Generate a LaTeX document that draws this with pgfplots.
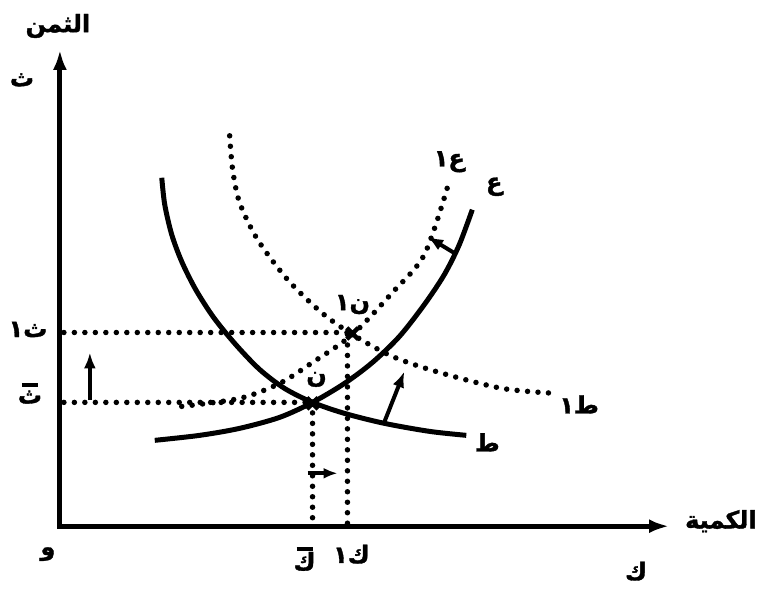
\documentclass[border=0pt]{standalone}
\usepackage{pgfplots}
\pgfplotsset{compat=1.18}
\usetikzlibrary{arrows.meta}
\usepackage{fontspec}
\TeXXeTstate=1
\newfontfamily\arabicfont[Script=Arabic, FakeBold=1.5]{DejaVu Sans Bold}
\newcommand{\ar}[1]{{\arabicfont\fontsize{24}{27}\selectfont\beginR #1\endR}}
\begin{document}
\begin{tikzpicture}
\begin{axis}[hide axis, x=1pt, y=1pt, xmin=0, xmax=760, ymin=0, ymax=592,
  y dir=reverse, clip=false]
\path (axis cs:0,0) rectangle (axis cs:760,592);
% axes
\addplot[line width=5pt, {Latex[length=20pt,width=14pt]}-{Latex[length=20pt,width=14pt]}]
  coordinates {(60,50) (60,527) (670,527)};
% dotted guide lines
\tikzset{dots/.style={line width=5.5pt, line cap=round, dash pattern=on 0pt off 10.5pt}}
\addplot[dots] coordinates {(64,333) (353,333)};
\addplot[dots] coordinates {(64,403) (313,403)};
\addplot[dots] coordinates {(313,403) (313,525)};
\addplot[dots] coordinates {(348,335) (348,525)};
% demand D (solid)
\addplot[line width=5pt, smooth] coordinates {
 (162,178) (165,205) (172,235) (182,262) (196,290) (214,318) (236,345) (260,370)
 (285,389) (313,403) (345,414) (385,424) (430,432) (467,436)};
% supply S (solid)
\addplot[line width=5pt, smooth] coordinates {
 (155,441) (200,436) (240,429) (280,418) (313,403) (345,384) (373,363) (400,337)
 (425,305) (445,275) (460,245) (473,210)};
% demand D1 (dotted)
\addplot[dots, smooth] coordinates {
 (230,136) (233,170) (240,203) (258,240) (288,280) (322,313) (353,335) (393,357)
 (440,373) (503,389) (557,394)};
% supply S1 (dotted)
\addplot[dots, smooth] coordinates {
 (182,407) (240,399) (280,384) (313,363) (353,335) (393,293) (425,255) (448,188)};
% equilibrium points
\addplot[only marks, mark=x, mark size=8pt, line width=4.5pt] coordinates {(313,404) (353,334)};
% shift arrows
\addplot[line width=4pt, -{Latex[length=16pt,width=12pt]}] coordinates {(90,401) (90,353)};
\addplot[line width=4pt, -{Latex[length=16pt,width=12pt]}] coordinates {(384,425) (405,372)};
\addplot[line width=4pt, -{Latex[length=16pt,width=12pt]}] coordinates {(456,254) (428,237)};
\addplot[line width=4pt, -{Latex[length=14pt,width=11pt]}] coordinates {(308,474) (338,474)};
% labels
\node at (axis cs:58,26) {\ar{الثمن}};
\node at (axis cs:22,80) {\ar{ث}};
\node at (axis cs:28,330) {\ar{ث١}};
\node[align=center, inner sep=0pt] at (axis cs:30,394) {\rule{16pt}{3.5pt}\\[3pt]\ar{ث}};
\node at (axis cs:48,555) {\ar{و}};
\node[align=center, inner sep=0pt] at (axis cs:305,560) {\rule{16pt}{3.5pt}\\[0pt]\ar{ك}};
\node at (axis cs:352,555) {\ar{ك١}};
\node at (axis cs:722,522) {\ar{الكمية}};
\node at (axis cs:637,572) {\ar{ك}};
\node at (axis cs:495,187) {\ar{ع}};
\node at (axis cs:450,162) {\ar{ع١}};
\node at (axis cs:488,443) {\ar{ط}};
\node at (axis cs:580,405) {\ar{ط١}};
\node at (axis cs:317,380) {\ar{ن}};
\node at (axis cs:353,305) {\ar{ن١}};
\end{axis}
\end{tikzpicture}
\end{document}
